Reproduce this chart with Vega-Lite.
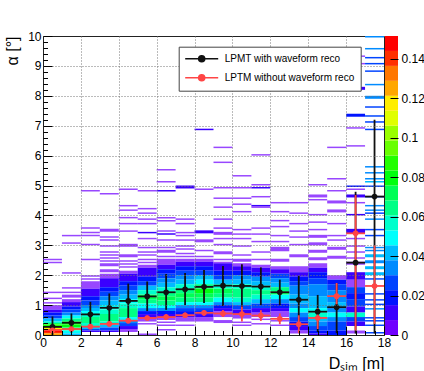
{
"$schema": "https://vega.github.io/schema/vega-lite/v6.json",
"padding": {"left": 4, "top": 29, "right": 0, "bottom": 0},
"background": "white",
"config": {"font": "Liberation Sans", "view": {"stroke": null}},
"spacing": 1,
"bounds": "flush",
"datasets": {
"cb": [
{"lo":0,"hi":0.00757},{"lo":0.00757,"hi":0.01514},{"lo":0.01514,"hi":0.02271},{"lo":0.02271,"hi":0.03028},{"lo":0.03028,"hi":0.03785},{"lo":0.03785,"hi":0.04542},{"lo":0.04542,"hi":0.05299},{"lo":0.05299,"hi":0.06056},{"lo":0.06056,"hi":0.06813},{"lo":0.06813,"hi":0.0757},{"lo":0.0757,"hi":0.08327},{"lo":0.08327,"hi":0.09084},{"lo":0.09084,"hi":0.09841},{"lo":0.09841,"hi":0.10598},{"lo":0.10598,"hi":0.11355},{"lo":0.11355,"hi":0.12112},{"lo":0.12112,"hi":0.12869},{"lo":0.12869,"hi":0.13626},{"lo":0.13626,"hi":0.14383},{"lo":0.14383,"hi":0.1514}
],
"s": [
{"s":"LPMT with waveform reco","x":0,"e":1,"c":0.5,"m":0.27,"lo":0,"hi":0.62},
{"s":"LPMT with waveform reco","x":1,"e":2,"c":1.5,"m":0.41,"lo":0.08,"hi":0.72},
{"s":"LPMT with waveform reco","x":2,"e":3,"c":2.5,"m":0.69,"lo":0.27,"hi":1.11},
{"s":"LPMT with waveform reco","x":3,"e":4,"c":3.5,"m":0.91,"lo":0.42,"hi":1.39},
{"s":"LPMT with waveform reco","x":4,"e":5,"c":4.5,"m":1.14,"lo":0.55,"hi":1.72},
{"s":"LPMT with waveform reco","x":5,"e":6,"c":5.5,"m":1.29,"lo":0.8,"hi":1.79},
{"s":"LPMT with waveform reco","x":6,"e":7,"c":6.5,"m":1.43,"lo":0.84,"hi":2.04},
{"s":"LPMT with waveform reco","x":7,"e":8,"c":7.5,"m":1.53,"lo":1.0,"hi":2.07},
{"s":"LPMT with waveform reco","x":8,"e":9,"c":8.5,"m":1.61,"lo":1.07,"hi":2.17},
{"s":"LPMT with waveform reco","x":9,"e":10,"c":9.5,"m":1.65,"lo":0.97,"hi":2.31},
{"s":"LPMT with waveform reco","x":10,"e":11,"c":10.5,"m":1.64,"lo":0.86,"hi":2.37},
{"s":"LPMT with waveform reco","x":11,"e":12,"c":11.5,"m":1.62,"lo":1.0,"hi":2.26},
{"s":"LPMT with waveform reco","x":12,"e":13,"c":12.5,"m":1.43,"lo":1.0,"hi":1.85},
{"s":"LPMT with waveform reco","x":13,"e":14,"c":13.5,"m":1.18,"lo":0.2,"hi":1.98},
{"s":"LPMT with waveform reco","x":14,"e":15,"c":14.5,"m":0.78,"lo":0.1,"hi":1.34},
{"s":"LPMT with waveform reco","x":15,"e":16,"c":15.5,"m":0.93,"lo":0.06,"hi":1.73},
{"s":"LPMT with waveform reco","x":16,"e":17,"c":16.5,"m":2.42,"lo":0.05,"hi":4.79},
{"s":"LPMT with waveform reco","x":17,"e":18,"c":17.5,"m":4.63,"lo":0.05,"hi":7.2},
{"s":"LPTM without waveform reco","x":0,"e":1,"c":0.5,"m":0.16,"lo":0.1,"hi":0.22},
{"s":"LPTM without waveform reco","x":1,"e":2,"c":1.5,"m":0.2,"lo":0.14,"hi":0.26},
{"s":"LPTM without waveform reco","x":2,"e":3,"c":2.5,"m":0.28,"lo":0.21,"hi":0.35},
{"s":"LPTM without waveform reco","x":3,"e":4,"c":3.5,"m":0.37,"lo":0.29,"hi":0.45},
{"s":"LPTM without waveform reco","x":4,"e":5,"c":4.5,"m":0.48,"lo":0.39,"hi":0.57},
{"s":"LPTM without waveform reco","x":5,"e":6,"c":5.5,"m":0.57,"lo":0.49,"hi":0.65},
{"s":"LPTM without waveform reco","x":6,"e":7,"c":6.5,"m":0.6,"lo":0.5,"hi":0.7},
{"s":"LPTM without waveform reco","x":7,"e":8,"c":7.5,"m":0.66,"lo":0.57,"hi":0.75},
{"s":"LPTM without waveform reco","x":8,"e":9,"c":8.5,"m":0.74,"lo":0.64,"hi":0.84},
{"s":"LPTM without waveform reco","x":9,"e":10,"c":9.5,"m":0.72,"lo":0.6,"hi":0.84},
{"s":"LPTM without waveform reco","x":10,"e":11,"c":10.5,"m":0.7,"lo":0.45,"hi":0.95},
{"s":"LPTM without waveform reco","x":11,"e":12,"c":11.5,"m":0.65,"lo":0.47,"hi":0.83},
{"s":"LPTM without waveform reco","x":12,"e":13,"c":12.5,"m":0.54,"lo":0.36,"hi":0.72},
{"s":"LPTM without waveform reco","x":13,"e":14,"c":13.5,"m":0.36,"lo":0.06,"hi":0.66},
{"s":"LPTM without waveform reco","x":14,"e":15,"c":14.5,"m":0.57,"lo":0.2,"hi":0.9},
{"s":"LPTM without waveform reco","x":15,"e":16,"c":15.5,"m":1.3,"lo":0.84,"hi":1.74},
{"s":"LPTM without waveform reco","x":16,"e":17,"c":16.5,"m":3.4,"lo":0.15,"hi":4.68},
{"s":"LPTM without waveform reco","x":17,"e":18,"c":17.5,"m":1.64,"lo":0.37,"hi":3.0}
],
"h": [
{"x":0,"e":1,"a":2.5,"b":2.55,"v":0.004},{"x":0,"e":1,"a":2.4,"b":2.45,"v":0.004},{"x":0,"e":1,"a":1.4,"b":1.45,"v":0.004},{"x":0,"e":1,"a":1.2,"b":1.25,"v":0.004},{"x":0,"e":1,"a":1.05,"b":1.1,"v":0.004},{"x":0,"e":1,"a":0.85,"b":1,"v":0.004},{"x":0,"e":1,"a":0.75,"b":0.85,"v":0.011},{"x":0,"e":1,"a":0.65,"b":0.75,"v":0.019},{"x":0,"e":1,"a":0.55,"b":0.65,"v":0.026},{"x":0,"e":1,"a":0.45,"b":0.55,"v":0.042},{"x":0,"e":1,"a":0.4,"b":0.45,"v":0.057},{"x":0,"e":1,"a":0.35,"b":0.4,"v":0.072},{"x":0,"e":1,"a":0.3,"b":0.35,"v":0.087},{"x":0,"e":1,"a":0.25,"b":0.3,"v":0.102},{"x":0,"e":1,"a":0.2,"b":0.25,"v":0.117},{"x":0,"e":1,"a":0.15,"b":0.2,"v":0.132},{"x":0,"e":1,"a":0.1,"b":0.15,"v":0.148},{"x":0,"e":1,"a":0.05,"b":0.1,"v":0.14},{"x":0,"e":1,"a":0,"b":0.05,"v":0.125},
{"x":1,"e":2,"a":3.3,"b":3.35,"v":0.004},{"x":1,"e":2,"a":3.05,"b":3.1,"v":0.004},{"x":1,"e":2,"a":2.05,"b":2.1,"v":0.004},{"x":1,"e":2,"a":1.55,"b":1.6,"v":0.004},{"x":1,"e":2,"a":1.4,"b":1.45,"v":0.004},{"x":1,"e":2,"a":1.25,"b":1.35,"v":0.004},{"x":1,"e":2,"a":1.1,"b":1.2,"v":0.004},{"x":1,"e":2,"a":0.95,"b":1.1,"v":0.011},{"x":1,"e":2,"a":0.85,"b":0.95,"v":0.019},{"x":1,"e":2,"a":0.75,"b":0.85,"v":0.026},{"x":1,"e":2,"a":0.65,"b":0.75,"v":0.034},{"x":1,"e":2,"a":0.55,"b":0.65,"v":0.049},{"x":1,"e":2,"a":0.45,"b":0.55,"v":0.064},{"x":1,"e":2,"a":0.35,"b":0.45,"v":0.079},{"x":1,"e":2,"a":0.25,"b":0.35,"v":0.079},{"x":1,"e":2,"a":0.15,"b":0.25,"v":0.064},{"x":1,"e":2,"a":0.05,"b":0.15,"v":0.049},{"x":1,"e":2,"a":0,"b":0.05,"v":0.042},
{"x":2,"e":3,"a":4.8,"b":4.85,"v":0.004},{"x":2,"e":3,"a":3.55,"b":3.6,"v":0.004},{"x":2,"e":3,"a":3.4,"b":3.45,"v":0.004},{"x":2,"e":3,"a":3.3,"b":3.35,"v":0.004},{"x":2,"e":3,"a":3.0,"b":3.05,"v":0.004},{"x":2,"e":3,"a":2.5,"b":2.55,"v":0.004},{"x":2,"e":3,"a":1.95,"b":2.0,"v":0.004},{"x":2,"e":3,"a":1.85,"b":1.9,"v":0.004},{"x":2,"e":3,"a":1.55,"b":1.8,"v":0.004},{"x":2,"e":3,"a":1.3,"b":1.55,"v":0.011},{"x":2,"e":3,"a":1.15,"b":1.3,"v":0.019},{"x":2,"e":3,"a":1.0,"b":1.15,"v":0.026},{"x":2,"e":3,"a":0.9,"b":1.0,"v":0.034},{"x":2,"e":3,"a":0.8,"b":0.9,"v":0.042},{"x":2,"e":3,"a":0.7,"b":0.8,"v":0.049},{"x":2,"e":3,"a":0.6,"b":0.7,"v":0.057},{"x":2,"e":3,"a":0.4,"b":0.6,"v":0.064},{"x":2,"e":3,"a":0.3,"b":0.4,"v":0.057},{"x":2,"e":3,"a":0.2,"b":0.3,"v":0.042},{"x":2,"e":3,"a":0.15,"b":0.2,"v":0.026},{"x":2,"e":3,"a":0.1,"b":0.15,"v":0.011},
{"x":3,"e":4,"a":4.7,"b":4.75,"v":0.004},{"x":3,"e":4,"a":3.45,"b":3.55,"v":0.004},{"x":3,"e":4,"a":3.25,"b":3.3,"v":0.004},{"x":3,"e":4,"a":3.15,"b":3.2,"v":0.004},{"x":3,"e":4,"a":2.95,"b":3.0,"v":0.004},{"x":3,"e":4,"a":2.75,"b":2.8,"v":0.004},{"x":3,"e":4,"a":2.65,"b":2.7,"v":0.004},{"x":3,"e":4,"a":2.55,"b":2.6,"v":0.004},{"x":3,"e":4,"a":2.45,"b":2.5,"v":0.004},{"x":3,"e":4,"a":2.3,"b":2.4,"v":0.004},{"x":3,"e":4,"a":2.1,"b":2.2,"v":0.004},{"x":3,"e":4,"a":1.9,"b":2.05,"v":0.004},{"x":3,"e":4,"a":1.6,"b":1.9,"v":0.011},{"x":3,"e":4,"a":1.45,"b":1.6,"v":0.019},{"x":3,"e":4,"a":1.3,"b":1.45,"v":0.026},{"x":3,"e":4,"a":1.15,"b":1.3,"v":0.034},{"x":3,"e":4,"a":1.0,"b":1.15,"v":0.042},{"x":3,"e":4,"a":0.85,"b":1.0,"v":0.049},{"x":3,"e":4,"a":0.7,"b":0.85,"v":0.057},{"x":3,"e":4,"a":0.45,"b":0.7,"v":0.064},{"x":3,"e":4,"a":0.35,"b":0.45,"v":0.057},{"x":3,"e":4,"a":0.25,"b":0.35,"v":0.042},{"x":3,"e":4,"a":0.15,"b":0.25,"v":0.026},{"x":3,"e":4,"a":0.1,"b":0.15,"v":0.011},
{"x":4,"e":5,"a":4.85,"b":4.9,"v":0.004},{"x":4,"e":5,"a":4.3,"b":4.35,"v":0.004},{"x":4,"e":5,"a":4.15,"b":4.2,"v":0.004},{"x":4,"e":5,"a":3.9,"b":3.95,"v":0.004},{"x":4,"e":5,"a":3.7,"b":3.75,"v":0.004},{"x":4,"e":5,"a":3.45,"b":3.5,"v":0.004},{"x":4,"e":5,"a":2.95,"b":3.05,"v":0.004},{"x":4,"e":5,"a":2.6,"b":2.7,"v":0.004},{"x":4,"e":5,"a":2.45,"b":2.5,"v":0.004},{"x":4,"e":5,"a":2.35,"b":2.4,"v":0.004},{"x":4,"e":5,"a":2.25,"b":2.3,"v":0.004},{"x":4,"e":5,"a":2.05,"b":2.15,"v":0.004},{"x":4,"e":5,"a":1.8,"b":2.05,"v":0.011},{"x":4,"e":5,"a":1.65,"b":1.8,"v":0.019},{"x":4,"e":5,"a":1.5,"b":1.65,"v":0.026},{"x":4,"e":5,"a":1.35,"b":1.5,"v":0.034},{"x":4,"e":5,"a":1.2,"b":1.35,"v":0.042},{"x":4,"e":5,"a":1.05,"b":1.2,"v":0.049},{"x":4,"e":5,"a":0.9,"b":1.05,"v":0.057},{"x":4,"e":5,"a":0.6,"b":0.9,"v":0.064},{"x":4,"e":5,"a":0.5,"b":0.6,"v":0.049},{"x":4,"e":5,"a":0.4,"b":0.5,"v":0.034},{"x":4,"e":5,"a":0.3,"b":0.4,"v":0.026},{"x":4,"e":5,"a":0.2,"b":0.3,"v":0.011},{"x":4,"e":5,"a":0.1,"b":0.2,"v":0.004},
{"x":5,"e":6,"a":4.8,"b":4.85,"v":0.004},{"x":5,"e":6,"a":4.2,"b":4.25,"v":0.004},{"x":5,"e":6,"a":4.05,"b":4.1,"v":0.004},{"x":5,"e":6,"a":3.85,"b":3.9,"v":0.004},{"x":5,"e":6,"a":3.7,"b":3.75,"v":0.004},{"x":5,"e":6,"a":3.4,"b":3.45,"v":0.011},{"x":5,"e":6,"a":3.2,"b":3.25,"v":0.004},{"x":5,"e":6,"a":2.9,"b":2.95,"v":0.004},{"x":5,"e":6,"a":2.75,"b":2.8,"v":0.004},{"x":5,"e":6,"a":2.65,"b":2.7,"v":0.004},{"x":5,"e":6,"a":2.5,"b":2.55,"v":0.004},{"x":5,"e":6,"a":2.4,"b":2.45,"v":0.004},{"x":5,"e":6,"a":2.25,"b":2.35,"v":0.004},{"x":5,"e":6,"a":1.95,"b":2.25,"v":0.011},{"x":5,"e":6,"a":1.8,"b":1.95,"v":0.019},{"x":5,"e":6,"a":1.65,"b":1.8,"v":0.026},{"x":5,"e":6,"a":1.5,"b":1.65,"v":0.042},{"x":5,"e":6,"a":1.35,"b":1.5,"v":0.057},{"x":5,"e":6,"a":1.2,"b":1.35,"v":0.072},{"x":5,"e":6,"a":1.05,"b":1.2,"v":0.064},{"x":5,"e":6,"a":0.9,"b":1.05,"v":0.049},{"x":5,"e":6,"a":0.8,"b":0.9,"v":0.034},{"x":5,"e":6,"a":0.7,"b":0.8,"v":0.019},{"x":5,"e":6,"a":0.55,"b":0.7,"v":0.011},{"x":5,"e":6,"a":0.45,"b":0.55,"v":0.004},{"x":5,"e":6,"a":0.35,"b":0.4,"v":0.004},{"x":5,"e":6,"a":0,"b":0.05,"v":0.004},
{"x":6,"e":7,"a":5.5,"b":5.55,"v":0.004},{"x":6,"e":7,"a":5.1,"b":5.15,"v":0.004},{"x":6,"e":7,"a":4.8,"b":4.85,"v":0.011},{"x":6,"e":7,"a":3.9,"b":3.95,"v":0.004},{"x":6,"e":7,"a":3.8,"b":3.85,"v":0.004},{"x":6,"e":7,"a":3.45,"b":3.5,"v":0.004},{"x":6,"e":7,"a":3.35,"b":3.4,"v":0.011},{"x":6,"e":7,"a":3.15,"b":3.2,"v":0.004},{"x":6,"e":7,"a":2.9,"b":2.95,"v":0.004},{"x":6,"e":7,"a":2.75,"b":2.85,"v":0.004},{"x":6,"e":7,"a":2.6,"b":2.65,"v":0.004},{"x":6,"e":7,"a":2.35,"b":2.55,"v":0.004},{"x":6,"e":7,"a":2.2,"b":2.35,"v":0.011},{"x":6,"e":7,"a":2.05,"b":2.2,"v":0.019},{"x":6,"e":7,"a":1.9,"b":2.05,"v":0.026},{"x":6,"e":7,"a":1.75,"b":1.9,"v":0.034},{"x":6,"e":7,"a":1.6,"b":1.75,"v":0.042},{"x":6,"e":7,"a":1.45,"b":1.6,"v":0.057},{"x":6,"e":7,"a":1.3,"b":1.45,"v":0.064},{"x":6,"e":7,"a":1.15,"b":1.3,"v":0.072},{"x":6,"e":7,"a":1.0,"b":1.15,"v":0.064},{"x":6,"e":7,"a":0.9,"b":1.0,"v":0.049},{"x":6,"e":7,"a":0.8,"b":0.9,"v":0.034},{"x":6,"e":7,"a":0.7,"b":0.8,"v":0.019},{"x":6,"e":7,"a":0.6,"b":0.7,"v":0.011},{"x":6,"e":7,"a":0.5,"b":0.6,"v":0.004},{"x":6,"e":7,"a":0.4,"b":0.45,"v":0.004},{"x":6,"e":7,"a":0.3,"b":0.35,"v":0.004},{"x":6,"e":7,"a":0.15,"b":0.2,"v":0.004},
{"x":7,"e":8,"a":4.9,"b":5.0,"v":0.011},{"x":7,"e":8,"a":3.85,"b":3.9,"v":0.004},{"x":7,"e":8,"a":3.7,"b":3.75,"v":0.004},{"x":7,"e":8,"a":3.4,"b":3.45,"v":0.004},{"x":7,"e":8,"a":3.3,"b":3.35,"v":0.004},{"x":7,"e":8,"a":3.15,"b":3.2,"v":0.004},{"x":7,"e":8,"a":2.95,"b":3.0,"v":0.004},{"x":7,"e":8,"a":2.85,"b":2.9,"v":0.004},{"x":7,"e":8,"a":2.7,"b":2.75,"v":0.004},{"x":7,"e":8,"a":2.6,"b":2.65,"v":0.004},{"x":7,"e":8,"a":2.45,"b":2.55,"v":0.004},{"x":7,"e":8,"a":2.3,"b":2.45,"v":0.011},{"x":7,"e":8,"a":2.15,"b":2.3,"v":0.019},{"x":7,"e":8,"a":2.0,"b":2.15,"v":0.026},{"x":7,"e":8,"a":1.85,"b":2.0,"v":0.034},{"x":7,"e":8,"a":1.7,"b":1.85,"v":0.042},{"x":7,"e":8,"a":1.55,"b":1.7,"v":0.057},{"x":7,"e":8,"a":1.4,"b":1.55,"v":0.064},{"x":7,"e":8,"a":1.25,"b":1.4,"v":0.072},{"x":7,"e":8,"a":1.1,"b":1.25,"v":0.064},{"x":7,"e":8,"a":1.0,"b":1.1,"v":0.049},{"x":7,"e":8,"a":0.9,"b":1.0,"v":0.034},{"x":7,"e":8,"a":0.8,"b":0.9,"v":0.026},{"x":7,"e":8,"a":0.7,"b":0.8,"v":0.019},{"x":7,"e":8,"a":0.6,"b":0.7,"v":0.011},{"x":7,"e":8,"a":0.45,"b":0.6,"v":0.004},{"x":7,"e":8,"a":0.3,"b":0.35,"v":0.004},
{"x":8,"e":9,"a":6.85,"b":6.9,"v":0.011},{"x":8,"e":9,"a":4.85,"b":4.9,"v":0.004},{"x":8,"e":9,"a":3.4,"b":3.5,"v":0.011},{"x":8,"e":9,"a":3.1,"b":3.2,"v":0.004},{"x":8,"e":9,"a":2.8,"b":2.85,"v":0.004},{"x":8,"e":9,"a":2.6,"b":2.65,"v":0.004},{"x":8,"e":9,"a":2.45,"b":2.55,"v":0.004},{"x":8,"e":9,"a":2.3,"b":2.45,"v":0.011},{"x":8,"e":9,"a":2.15,"b":2.3,"v":0.019},{"x":8,"e":9,"a":2.0,"b":2.15,"v":0.026},{"x":8,"e":9,"a":1.85,"b":2.0,"v":0.042},{"x":8,"e":9,"a":1.7,"b":1.85,"v":0.049},{"x":8,"e":9,"a":1.55,"b":1.7,"v":0.064},{"x":8,"e":9,"a":1.4,"b":1.55,"v":0.079},{"x":8,"e":9,"a":1.25,"b":1.4,"v":0.072},{"x":8,"e":9,"a":1.1,"b":1.25,"v":0.064},{"x":8,"e":9,"a":1.0,"b":1.1,"v":0.049},{"x":8,"e":9,"a":0.9,"b":1.0,"v":0.034},{"x":8,"e":9,"a":0.8,"b":0.9,"v":0.026},{"x":8,"e":9,"a":0.7,"b":0.8,"v":0.019},{"x":8,"e":9,"a":0.6,"b":0.7,"v":0.011},{"x":8,"e":9,"a":0.45,"b":0.6,"v":0.004},
{"x":9,"e":10,"a":6.25,"b":6.3,"v":0.004},{"x":9,"e":10,"a":5.75,"b":5.8,"v":0.004},{"x":9,"e":10,"a":4.9,"b":4.95,"v":0.004},{"x":9,"e":10,"a":4.55,"b":4.6,"v":0.004},{"x":9,"e":10,"a":4.25,"b":4.3,"v":0.004},{"x":9,"e":10,"a":3.85,"b":3.9,"v":0.004},{"x":9,"e":10,"a":3.55,"b":3.6,"v":0.004},{"x":9,"e":10,"a":3.35,"b":3.45,"v":0.004},{"x":9,"e":10,"a":3.2,"b":3.25,"v":0.004},{"x":9,"e":10,"a":3.0,"b":3.05,"v":0.004},{"x":9,"e":10,"a":2.7,"b":2.8,"v":0.004},{"x":9,"e":10,"a":2.5,"b":2.55,"v":0.004},{"x":9,"e":10,"a":2.4,"b":2.45,"v":0.004},{"x":9,"e":10,"a":2.15,"b":2.4,"v":0.011},{"x":9,"e":10,"a":2.0,"b":2.15,"v":0.019},{"x":9,"e":10,"a":1.85,"b":2.0,"v":0.026},{"x":9,"e":10,"a":1.7,"b":1.85,"v":0.042},{"x":9,"e":10,"a":1.55,"b":1.7,"v":0.057},{"x":9,"e":10,"a":1.4,"b":1.55,"v":0.072},{"x":9,"e":10,"a":1.25,"b":1.4,"v":0.064},{"x":9,"e":10,"a":1.1,"b":1.25,"v":0.049},{"x":9,"e":10,"a":1.0,"b":1.1,"v":0.034},{"x":9,"e":10,"a":0.9,"b":1.0,"v":0.019},{"x":9,"e":10,"a":0.8,"b":0.9,"v":0.011},{"x":9,"e":10,"a":0.6,"b":0.8,"v":0.004},{"x":9,"e":10,"a":0.4,"b":0.5,"v":0.004},
{"x":10,"e":11,"a":5.3,"b":5.35,"v":0.004},{"x":10,"e":11,"a":4.9,"b":4.95,"v":0.004},{"x":10,"e":11,"a":4.55,"b":4.6,"v":0.004},{"x":10,"e":11,"a":4.35,"b":4.4,"v":0.004},{"x":10,"e":11,"a":4.1,"b":4.15,"v":0.004},{"x":10,"e":11,"a":3.5,"b":3.55,"v":0.004},{"x":10,"e":11,"a":3.35,"b":3.4,"v":0.004},{"x":10,"e":11,"a":3.2,"b":3.25,"v":0.004},{"x":10,"e":11,"a":2.95,"b":3.0,"v":0.004},{"x":10,"e":11,"a":2.65,"b":2.7,"v":0.004},{"x":10,"e":11,"a":2.45,"b":2.55,"v":0.004},{"x":10,"e":11,"a":2.3,"b":2.4,"v":0.004},{"x":10,"e":11,"a":2.15,"b":2.3,"v":0.011},{"x":10,"e":11,"a":2.0,"b":2.15,"v":0.019},{"x":10,"e":11,"a":1.85,"b":2.0,"v":0.034},{"x":10,"e":11,"a":1.7,"b":1.85,"v":0.042},{"x":10,"e":11,"a":1.55,"b":1.7,"v":0.057},{"x":10,"e":11,"a":1.25,"b":1.55,"v":0.064},{"x":10,"e":11,"a":1.1,"b":1.25,"v":0.057},{"x":10,"e":11,"a":1.0,"b":1.1,"v":0.042},{"x":10,"e":11,"a":0.85,"b":1.0,"v":0.026},{"x":10,"e":11,"a":0.7,"b":0.85,"v":0.011},{"x":10,"e":11,"a":0.55,"b":0.7,"v":0.004},{"x":10,"e":11,"a":0.4,"b":0.45,"v":0.004},{"x":10,"e":11,"a":0.3,"b":0.35,"v":0.004},
{"x":11,"e":12,"a":6.0,"b":6.05,"v":0.004},{"x":11,"e":12,"a":5.0,"b":5.05,"v":0.004},{"x":11,"e":12,"a":4.9,"b":4.95,"v":0.011},{"x":11,"e":12,"a":4.6,"b":4.65,"v":0.004},{"x":11,"e":12,"a":4.3,"b":4.35,"v":0.011},{"x":11,"e":12,"a":4.25,"b":4.3,"v":0.004},{"x":11,"e":12,"a":3.55,"b":3.6,"v":0.004},{"x":11,"e":12,"a":3.35,"b":3.4,"v":0.004},{"x":11,"e":12,"a":3.1,"b":3.15,"v":0.004},{"x":11,"e":12,"a":2.75,"b":2.8,"v":0.004},{"x":11,"e":12,"a":2.5,"b":2.55,"v":0.004},{"x":11,"e":12,"a":2.25,"b":2.35,"v":0.004},{"x":11,"e":12,"a":2.1,"b":2.25,"v":0.011},{"x":11,"e":12,"a":1.95,"b":2.1,"v":0.019},{"x":11,"e":12,"a":1.8,"b":1.95,"v":0.034},{"x":11,"e":12,"a":1.65,"b":1.8,"v":0.042},{"x":11,"e":12,"a":1.5,"b":1.65,"v":0.057},{"x":11,"e":12,"a":1.35,"b":1.5,"v":0.064},{"x":11,"e":12,"a":1.2,"b":1.35,"v":0.057},{"x":11,"e":12,"a":1.05,"b":1.2,"v":0.042},{"x":11,"e":12,"a":0.9,"b":1.05,"v":0.026},{"x":11,"e":12,"a":0.75,"b":0.9,"v":0.011},{"x":11,"e":12,"a":0.6,"b":0.75,"v":0.004},{"x":11,"e":12,"a":0.5,"b":0.55,"v":0.004},{"x":11,"e":12,"a":0.35,"b":0.4,"v":0.004},
{"x":12,"e":13,"a":4.4,"b":4.45,"v":0.004},{"x":12,"e":13,"a":4.1,"b":4.15,"v":0.004},{"x":12,"e":13,"a":3.8,"b":3.85,"v":0.004},{"x":12,"e":13,"a":3.6,"b":3.65,"v":0.004},{"x":12,"e":13,"a":3.3,"b":3.35,"v":0.004},{"x":12,"e":13,"a":3.1,"b":3.15,"v":0.004},{"x":12,"e":13,"a":2.8,"b":2.95,"v":0.004},{"x":12,"e":13,"a":2.45,"b":2.55,"v":0.004},{"x":12,"e":13,"a":2.2,"b":2.3,"v":0.004},{"x":12,"e":13,"a":2.05,"b":2.2,"v":0.011},{"x":12,"e":13,"a":1.9,"b":2.05,"v":0.026},{"x":12,"e":13,"a":1.75,"b":1.9,"v":0.034},{"x":12,"e":13,"a":1.6,"b":1.75,"v":0.042},{"x":12,"e":13,"a":1.45,"b":1.6,"v":0.064},{"x":12,"e":13,"a":1.35,"b":1.45,"v":0.072},{"x":12,"e":13,"a":1.2,"b":1.35,"v":0.049},{"x":12,"e":13,"a":1.05,"b":1.2,"v":0.034},{"x":12,"e":13,"a":0.9,"b":1.05,"v":0.019},{"x":12,"e":13,"a":0.8,"b":0.9,"v":0.011},{"x":12,"e":13,"a":0.6,"b":0.8,"v":0.004},{"x":12,"e":13,"a":0.45,"b":0.5,"v":0.004},{"x":12,"e":13,"a":0.3,"b":0.35,"v":0.004},
{"x":13,"e":14,"a":4.4,"b":4.45,"v":0.004},{"x":13,"e":14,"a":4.05,"b":4.1,"v":0.004},{"x":13,"e":14,"a":3.7,"b":3.75,"v":0.004},{"x":13,"e":14,"a":3.45,"b":3.5,"v":0.004},{"x":13,"e":14,"a":3.25,"b":3.3,"v":0.004},{"x":13,"e":14,"a":3.0,"b":3.05,"v":0.004},{"x":13,"e":14,"a":2.6,"b":2.7,"v":0.004},{"x":13,"e":14,"a":2.1,"b":2.3,"v":0.004},{"x":13,"e":14,"a":1.95,"b":2.1,"v":0.011},{"x":13,"e":14,"a":1.8,"b":1.95,"v":0.019},{"x":13,"e":14,"a":1.65,"b":1.8,"v":0.026},{"x":13,"e":14,"a":1.35,"b":1.65,"v":0.034},{"x":13,"e":14,"a":1.05,"b":1.35,"v":0.042},{"x":13,"e":14,"a":0.9,"b":1.05,"v":0.034},{"x":13,"e":14,"a":0.75,"b":0.9,"v":0.049},{"x":13,"e":14,"a":0.6,"b":0.75,"v":0.034},{"x":13,"e":14,"a":0.45,"b":0.6,"v":0.026},{"x":13,"e":14,"a":0.3,"b":0.45,"v":0.019},{"x":13,"e":14,"a":0.15,"b":0.3,"v":0.011},{"x":13,"e":14,"a":0.05,"b":0.15,"v":0.004},
{"x":14,"e":15,"a":5.0,"b":5.05,"v":0.004},{"x":14,"e":15,"a":4.6,"b":4.7,"v":0.004},{"x":14,"e":15,"a":4.5,"b":4.55,"v":0.004},{"x":14,"e":15,"a":4.0,"b":4.05,"v":0.004},{"x":14,"e":15,"a":3.75,"b":3.8,"v":0.004},{"x":14,"e":15,"a":3.5,"b":3.55,"v":0.004},{"x":14,"e":15,"a":3.25,"b":3.35,"v":0.004},{"x":14,"e":15,"a":3.0,"b":3.1,"v":0.004},{"x":14,"e":15,"a":2.75,"b":2.85,"v":0.004},{"x":14,"e":15,"a":2.5,"b":2.6,"v":0.004},{"x":14,"e":15,"a":2.25,"b":2.4,"v":0.004},{"x":14,"e":15,"a":2.1,"b":2.25,"v":0.011},{"x":14,"e":15,"a":1.9,"b":2.1,"v":0.019},{"x":14,"e":15,"a":1.7,"b":1.9,"v":0.026},{"x":14,"e":15,"a":1.3,"b":1.7,"v":0.034},{"x":14,"e":15,"a":0.9,"b":1.3,"v":0.042},{"x":14,"e":15,"a":0.75,"b":0.9,"v":0.049},{"x":14,"e":15,"a":0.6,"b":0.75,"v":0.057},{"x":14,"e":15,"a":0.45,"b":0.6,"v":0.042},{"x":14,"e":15,"a":0.3,"b":0.45,"v":0.034},{"x":14,"e":15,"a":0.15,"b":0.3,"v":0.026},{"x":14,"e":15,"a":0.05,"b":0.15,"v":0.019},{"x":14,"e":15,"a":0,"b":0.05,"v":0.011},
{"x":15,"e":16,"a":6.25,"b":6.3,"v":0.004},{"x":15,"e":16,"a":5.2,"b":5.25,"v":0.004},{"x":15,"e":16,"a":4.8,"b":4.85,"v":0.004},{"x":15,"e":16,"a":4.4,"b":4.5,"v":0.004},{"x":15,"e":16,"a":4.1,"b":4.2,"v":0.004},{"x":15,"e":16,"a":3.7,"b":3.75,"v":0.004},{"x":15,"e":16,"a":3.3,"b":3.35,"v":0.004},{"x":15,"e":16,"a":3.15,"b":3.2,"v":0.004},{"x":15,"e":16,"a":2.85,"b":2.95,"v":0.004},{"x":15,"e":16,"a":2.55,"b":2.65,"v":0.004},{"x":15,"e":16,"a":1.85,"b":2.0,"v":0.004},{"x":15,"e":16,"a":1.7,"b":1.85,"v":0.019},{"x":15,"e":16,"a":1.5,"b":1.7,"v":0.026},{"x":15,"e":16,"a":1.1,"b":1.5,"v":0.034},{"x":15,"e":16,"a":0.9,"b":1.1,"v":0.042},{"x":15,"e":16,"a":0.75,"b":0.9,"v":0.034},{"x":15,"e":16,"a":0.6,"b":0.75,"v":0.049},{"x":15,"e":16,"a":0.45,"b":0.6,"v":0.034},{"x":15,"e":16,"a":0.15,"b":0.45,"v":0.026},{"x":15,"e":16,"a":0,"b":0.15,"v":0.019},
{"x":16,"e":17,"a":9.3,"b":9.35,"v":0.004},{"x":16,"e":17,"a":9.05,"b":9.1,"v":0.004},{"x":16,"e":17,"a":8.2,"b":8.3,"v":0.011},{"x":16,"e":17,"a":7.3,"b":7.4,"v":0.019},{"x":16,"e":17,"a":6.9,"b":6.95,"v":0.004},{"x":16,"e":17,"a":6.3,"b":6.35,"v":0.004},{"x":16,"e":17,"a":4.95,"b":5.0,"v":0.019},{"x":16,"e":17,"a":4.85,"b":4.9,"v":0.004},{"x":16,"e":17,"a":4.6,"b":4.7,"v":0.011},{"x":16,"e":17,"a":4.4,"b":4.45,"v":0.004},{"x":16,"e":17,"a":4.0,"b":4.05,"v":0.011},{"x":16,"e":17,"a":3.4,"b":3.55,"v":0.011},{"x":16,"e":17,"a":3.2,"b":3.25,"v":0.004},{"x":16,"e":17,"a":2.95,"b":3.0,"v":0.004},{"x":16,"e":17,"a":2.75,"b":2.8,"v":0.004},{"x":16,"e":17,"a":2.55,"b":2.6,"v":0.004},{"x":16,"e":17,"a":2.35,"b":2.45,"v":0.004},{"x":16,"e":17,"a":1.85,"b":2.1,"v":0.011},{"x":16,"e":17,"a":1.6,"b":1.85,"v":0.004},{"x":16,"e":17,"a":1.4,"b":1.6,"v":0.026},{"x":16,"e":17,"a":1.2,"b":1.4,"v":0.019},{"x":16,"e":17,"a":0.95,"b":1.2,"v":0.026},{"x":16,"e":17,"a":0.75,"b":0.95,"v":0.011},{"x":16,"e":17,"a":0.6,"b":0.75,"v":0.057},{"x":16,"e":17,"a":0.45,"b":0.6,"v":0.026},{"x":16,"e":17,"a":0.3,"b":0.45,"v":0.011},{"x":16,"e":17,"a":0.05,"b":0.15,"v":0.004},
{"x":17,"e":18,"a":9.95,"b":10.0,"v":0.034},{"x":17,"e":18,"a":9.55,"b":9.6,"v":0.034},{"x":17,"e":18,"a":9.25,"b":9.3,"v":0.026},{"x":17,"e":18,"a":9.05,"b":9.1,"v":0.026},{"x":17,"e":18,"a":8.8,"b":8.85,"v":0.026},{"x":17,"e":18,"a":8.35,"b":8.4,"v":0.034},{"x":17,"e":18,"a":7.9,"b":8.0,"v":0.034},{"x":17,"e":18,"a":7.6,"b":7.65,"v":0.026},{"x":17,"e":18,"a":7.3,"b":7.35,"v":0.026},{"x":17,"e":18,"a":7.1,"b":7.15,"v":0.026},{"x":17,"e":18,"a":6.85,"b":6.9,"v":0.026},{"x":17,"e":18,"a":5.6,"b":5.65,"v":0.034},{"x":17,"e":18,"a":5.4,"b":5.45,"v":0.034},{"x":17,"e":18,"a":5.2,"b":5.25,"v":0.034},{"x":17,"e":18,"a":5.1,"b":5.15,"v":0.042},{"x":17,"e":18,"a":4.95,"b":5.0,"v":0.026},{"x":17,"e":18,"a":4.6,"b":4.65,"v":0.026},{"x":17,"e":18,"a":4.3,"b":4.35,"v":0.034},{"x":17,"e":18,"a":4.15,"b":4.2,"v":0.034},{"x":17,"e":18,"a":4.05,"b":4.1,"v":0.026},{"x":17,"e":18,"a":3.85,"b":3.9,"v":0.034},{"x":17,"e":18,"a":3.5,"b":3.55,"v":0.026},{"x":17,"e":18,"a":3.3,"b":3.35,"v":0.026},{"x":17,"e":18,"a":2.9,"b":2.95,"v":0.034},{"x":17,"e":18,"a":2.8,"b":2.85,"v":0.034},{"x":17,"e":18,"a":2.6,"b":2.7,"v":0.042},{"x":17,"e":18,"a":2.4,"b":2.5,"v":0.034},{"x":17,"e":18,"a":2.2,"b":2.3,"v":0.042},{"x":17,"e":18,"a":2.0,"b":2.1,"v":0.042},{"x":17,"e":18,"a":1.85,"b":1.9,"v":0.026},{"x":17,"e":18,"a":1.35,"b":1.4,"v":0.026},{"x":17,"e":18,"a":1.15,"b":1.2,"v":0.026},{"x":17,"e":18,"a":1.0,"b":1.05,"v":0.026},{"x":17,"e":18,"a":0.85,"b":0.9,"v":0.034},{"x":17,"e":18,"a":0.55,"b":0.6,"v":0.026},{"x":17,"e":18,"a":0.45,"b":0.5,"v":0.026},{"x":17,"e":18,"a":0.3,"b":0.35,"v":0.026},{"x":17,"e":18,"a":0.05,"b":0.1,"v":0.026}
]
},
"hconcat": [
{
"width": 341, "height": 299,
"view": {"stroke": "#222", "strokeWidth": 1},
"layer": [
{"data": {"name": "h"}, "mark": {"type": "rect", "strokeWidth": 0},
 "encoding": {
  "x": {"field": "x", "type": "quantitative", "scale": {"domain": [0, 18], "nice": false, "zero": false},
   "axis": {"title": "Dₛᵢₘ [m]", "titleAnchor": "end", "titleFontSize": 16, "titleFontWeight": "normal", "titleColor": "black", "titlePadding": 3,
    "values": [0,0.5,1,1.5,2,2.5,3,3.5,4,4.5,5,5.5,6,6.5,7,7.5,8,8.5,9,9.5,10,10.5,11,11.5,12,12.5,13,13.5,14,14.5,15,15.5,16,16.5,17,17.5,18],
    "tickCount": 100,
    "format": "~g", "labelExpr": "datum.value % 2 == 0 ? datum.label : ''",
    "labelFontSize": 12, "labelColor": "black", "labelFlush": false, "labelOverlap": false, "labelPadding": 11,
    "tickSize": {"condition": {"test": "datum.value % 2 == 0", "value": -9}, "value": -4.5}, "tickColor": "black",
    "grid": true, "gridColor": "#777", "gridDash": [1, 2],
    "gridOpacity": {"condition": {"test": "datum.value % 2 == 0 && datum.value > 0 && datum.value < 18", "value": 1}, "value": 0},
    "domain": false, "zindex": 1}},
  "x2": {"field": "e"},
  "y": {"field": "a", "type": "quantitative", "scale": {"domain": [0, 10], "nice": false, "zero": false},
   "axis": {"title": "α [°]", "titleAnchor": "end", "titleFontSize": 16, "titleFontWeight": "normal", "titleColor": "black", "titlePadding": 7,
    "values": [0,0.2,0.4,0.6,0.8,1,1.2,1.4,1.6,1.8,2,2.2,2.4,2.6,2.8,3,3.2,3.4,3.6,3.8,4,4.2,4.4,4.6,4.8,5,5.2,5.4,5.6,5.8,6,6.2,6.4,6.6,6.8,7,7.2,7.4,7.6,7.8,8,8.2,8.4,8.6,8.8,9,9.2,9.4,9.6,9.8,10],
    "tickCount": 100,
    "format": "~g", "labelExpr": "datum.value % 1 == 0 ? datum.label : ''",
    "labelFontSize": 12, "labelColor": "black", "labelFlush": false, "labelOverlap": false, "labelPadding": 11,
    "tickSize": {"condition": {"test": "datum.value % 1 == 0", "value": -9}, "value": -4.5}, "tickColor": "black",
    "grid": true, "gridColor": "#777", "gridDash": [1, 2],
    "gridOpacity": {"condition": {"test": "datum.value % 1 == 0 && datum.value > 0 && datum.value < 10", "value": 1}, "value": 0},
    "domain": false, "zindex": 1}},
  "y2": {"field": "b"},
  "fill": {"field": "v", "type": "quantitative",
   "scale": {"type": "threshold", "domain": [0.00757,0.01514,0.02271,0.03028,0.03785,0.04542,0.05299,0.06056,0.06813,0.0757,0.08327,0.09084,0.09841,0.10598,0.11355,0.12112,0.12869,0.13626,0.14383],
    "range": ["#7000ff","#3a00ff","#0014ff","#0044ff","#008bff","#00bbff","#00fffc","#00ffcc","#00ff85","#00ff55","#00ff0e","#22ff00","#69ff00","#99ff00","#e0ff00","#ffee00","#ffa700","#ff7700","#ff3000","#ff0000"]},
   "legend": null},
  "fillOpacity": {"condition": {"test": "datum.v < 0.00757", "value": 0.72}, "value": 1}
 }},
{"data": {"name": "s"}, "mark": {"type": "rule", "strokeWidth": 1.8},
 "encoding": {
  "x": {"field": "x", "type": "quantitative"}, "x2": {"field": "e"},
  "y": {"field": "m", "type": "quantitative"},
  "color": {"field": "s", "type": "nominal",
   "scale": {"domain": ["LPMT with waveform reco", "LPTM without waveform reco"], "range": ["#111111", "#ff4545"]},
   "legend": {"title": null, "orient": "none", "legendX": 135.7, "legendY": 10.7, "direction": "vertical",
    "symbolType": "M-3.3,0H3.3M-0.6,0A0.6,0.6,0,1,0,0.6,0A0.6,0.6,0,1,0,-0.6,0Z",
    "symbolSize": 100, "symbolStrokeWidth": 1.6, "symbolOffset": 11, "labelOffset": 17,
    "labelFontSize": 10, "labelColor": "black", "labelLimit": 300, "rowPadding": 5, "padding": 6,
    "strokeColor": "#444", "fillColor": "white",
    "encode": {"symbols": {"update": {"fill": {"scale": "color", "field": "value"}, "stroke": {"scale": "color", "field": "value"}, "opacity": {"value": 1}}}}}}
 }},
{"data": {"name": "s"}, "mark": {"type": "rule", "strokeWidth": 1.8},
 "encoding": {
  "x": {"field": "c", "type": "quantitative"},
  "y": {"field": "lo", "type": "quantitative"}, "y2": {"field": "hi"},
  "color": {"field": "s", "type": "nominal"}
 }},
{"data": {"name": "s"}, "mark": {"type": "circle", "size": 32, "opacity": 1},
 "encoding": {
  "x": {"field": "c", "type": "quantitative"},
  "y": {"field": "m", "type": "quantitative"},
  "color": {"field": "s", "type": "nominal"}
 }}
]
},
{
"width": 13, "height": 299,
"data": {"name": "cb"},
"mark": {"type": "rect", "strokeWidth": 0},
"encoding": {
 "y": {"field": "lo", "type": "quantitative", "scale": {"domain": [0, 0.1514], "nice": false, "zero": false},
  "axis": {"orient": "right", "title": null, "values": [0,0.02,0.04,0.06,0.08,0.1,0.12,0.14], "tickCount": 50, "format": ".2~f",
   "domain": false, "grid": false, "tickSize": -8, "tickColor": "black", "labelPadding": 11, "labelFontSize": 12, "labelColor": "black", "labelFlush": false, "labelOverlap": false, "zindex": 1}},
 "y2": {"field": "hi"},
 "fill": {"field": "lo", "type": "quantitative",
  "scale": {"type": "threshold", "domain": [0.00757,0.01514,0.02271,0.03028,0.03785,0.04542,0.05299,0.06056,0.06813,0.0757,0.08327,0.09084,0.09841,0.10598,0.11355,0.12112,0.12869,0.13626,0.14383],
   "range": ["#7000ff","#3a00ff","#0014ff","#0044ff","#008bff","#00bbff","#00fffc","#00ffcc","#00ff85","#00ff55","#00ff0e","#22ff00","#69ff00","#99ff00","#e0ff00","#ffee00","#ffa700","#ff7700","#ff3000","#ff0000"]},
  "legend": null}
}
}
]
}
